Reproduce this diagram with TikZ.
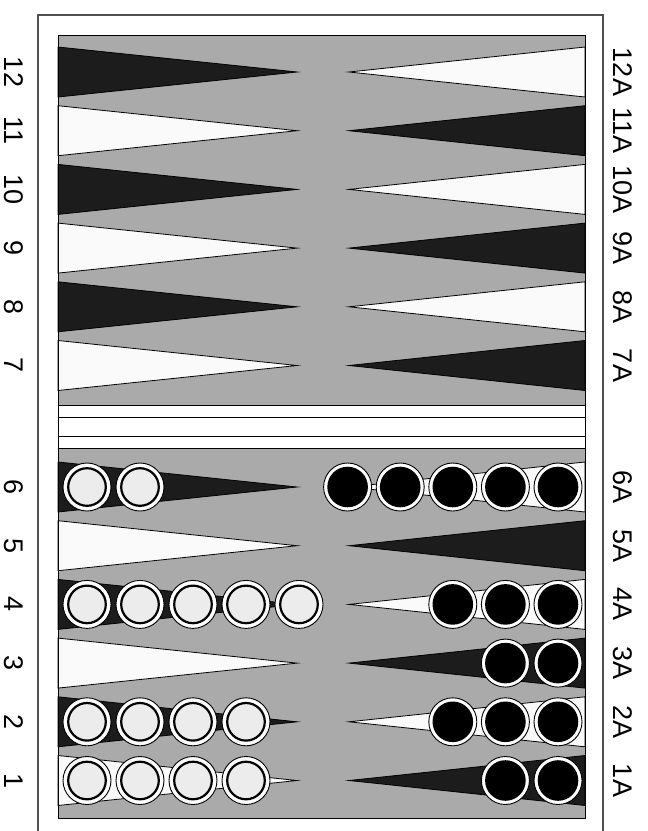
\documentclass[tikz,border=0pt]{standalone}
\usepackage{fontspec}
\setmainfont{Liberation Sans}
\definecolor{boardgray}{RGB}{170,170,170}
\definecolor{darkpt}{RGB}{28,28,28}
\definecolor{lightpt}{RGB}{250,250,250}
\definecolor{chkw}{RGB}{236,236,236}
\definecolor{framec}{RGB}{80,80,80}
\newcommand\whitechk[2]{%
  \draw[line width=0.9pt,fill=white] (#1,#2) circle[radius=24pt];
  \draw[line width=2.2pt,fill=chkw] (#1,#2) circle[radius=18.8pt];}
\newcommand\blackchk[2]{%
  \draw[line width=0.9pt,fill=white] (#1,#2) circle[radius=24pt];
  \fill[black] (#1,#2) circle[radius=20.3pt];}
\begin{document}
\begin{tikzpicture}[x=1pt,y=-1pt,
  lbl/.style={rotate=-90,font=\fontsize{27}{27}\selectfont,inner sep=0pt,anchor=center},
  tri/.style={draw=black,line width=0.8pt,line join=miter},
  halfboard/.style={fill=boardgray,draw=black,line width=0.9pt},
  barline/.style={draw=black,line width=0.9pt}]
\useasboundingbox (0,0) rectangle (648,831);
\fill[white] (0,0) rectangle (648,831);
% outer frame
\draw[framec,line width=1.1pt] (38,835) -- (38,15) -- (603,15) -- (603,835);
% halves
\draw[halfboard] (58,35) rectangle (585,405);
\draw[halfboard] (58,448) rectangle (585,818);
% bar
\fill[white] (58,405) rectangle (585,448);
\draw[barline] (58,405) -- (58,448) (585,405) -- (585,448);
\draw[barline] (58,417) -- (585,417);
\draw[barline] (58,436) -- (585,436);
% points
\foreach \base in {72,487}{
  \foreach \k in {0,...,5}{
    \pgfmathsetmacro\yc{\base+58.7*\k}
    \pgfmathtruncatemacro\parity{mod(\k,2)}
    \ifnum\parity=0
      \def\lc{darkpt}\def\rc{lightpt}
    \else
      \def\lc{lightpt}\def\rc{darkpt}
    \fi
    \filldraw[tri,fill=\lc] (58,\yc-25) -- (297,\yc) -- (58,\yc+25) -- cycle;
    \filldraw[tri,fill=\rc] (585,\yc-25) -- (349,\yc) -- (585,\yc+25) -- cycle;
  }
}
% re-draw board border over triangle bases
\draw[black,line width=0.9pt] (58,35) rectangle (585,405);
\draw[black,line width=0.9pt] (58,448) rectangle (585,818);
% white checkers (left, bottom half)
\foreach \k/\n in {0/2,2/5,4/4,5/4}{
  \foreach \i in {1,...,\n}{
    \pgfmathsetmacro\yc{487+58.7*\k}
    \pgfmathsetmacro\xc{87+53*(\i-1)}
    \whitechk{\xc}{\yc}
  }
}
% black checkers (right, bottom half)
\foreach \k/\n in {0/5,2/3,3/2,4/3,5/2}{
  \foreach \i in {1,...,\n}{
    \pgfmathsetmacro\yc{487+58.7*\k}
    \pgfmathsetmacro\xc{558-52.6*(\i-1)}
    \blackchk{\xc}{\yc}
  }
}
% labels
\foreach \k/\a in {0/12,1/11,2/10,3/9,4/8,5/7}{
  \pgfmathsetmacro\yc{72+58.7*\k}
  \node[lbl] (L\a) at (14,\yc) {\a};
  \node[lbl] (R\a) at (623,\yc) {\a A};
}
\foreach \k/\a in {0/6,1/5,2/4,3/3,4/2,5/1}{
  \pgfmathsetmacro\yc{487+58.7*\k}
  \node[lbl] (L\a) at (14,\yc) {\a};
  \node[lbl] (R\a) at (623,\yc) {\a A};
}
\end{tikzpicture}
\end{document}
